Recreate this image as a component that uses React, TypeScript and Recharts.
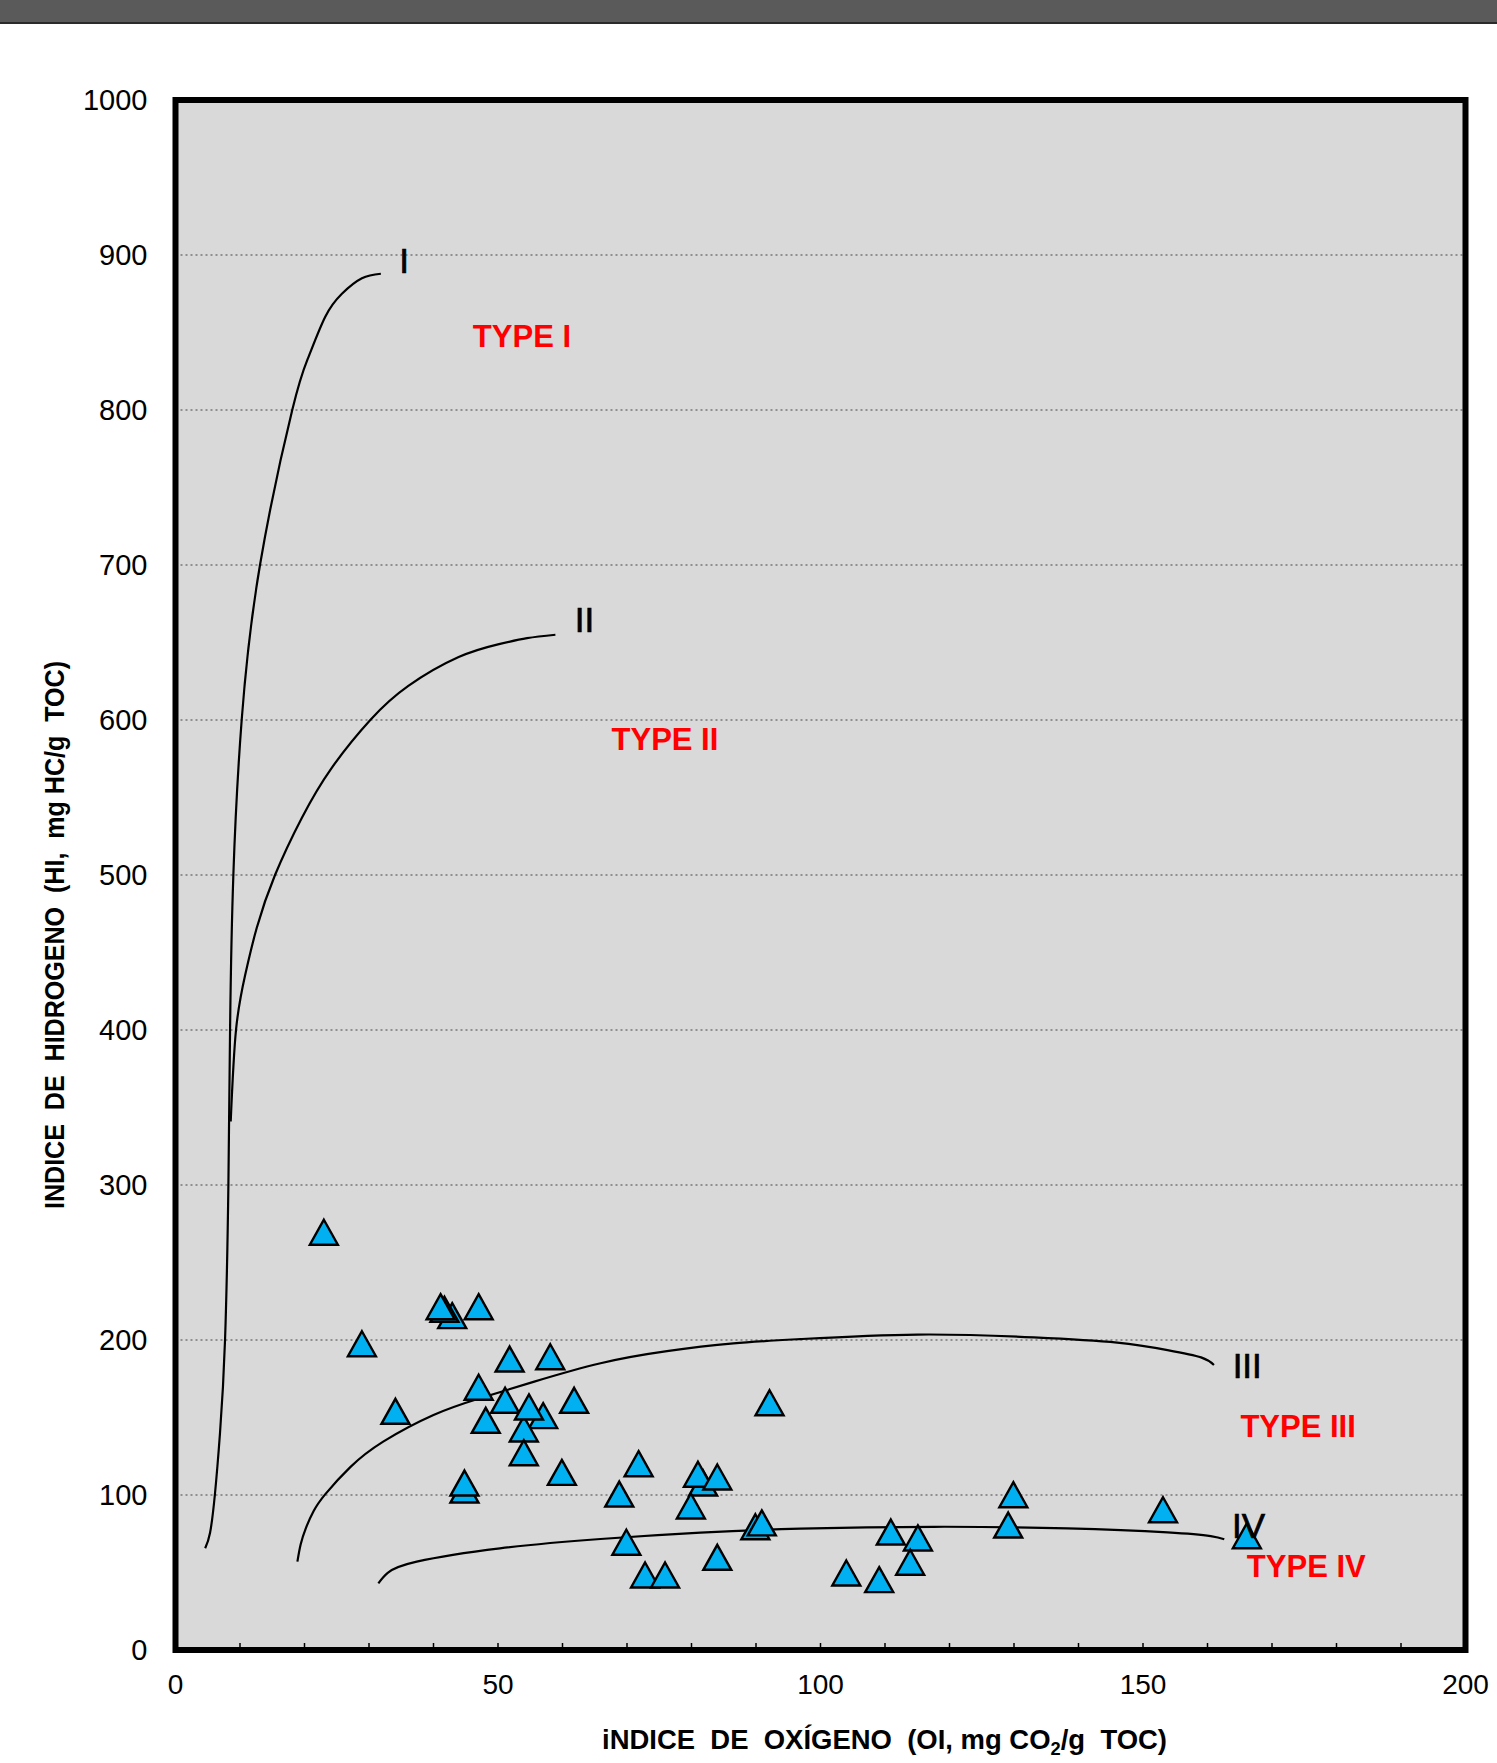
import React from "react";
import {
  ComposedChart,
  Scatter,
  Line,
  XAxis,
  YAxis,
  CartesianGrid,
  ReferenceArea,
  ReferenceDot,
} from "recharts";

// muestras: indice de oxigeno (OI) / indice de hidrogeno (HI)
const sampleOI = [
  23.0, 28.9, 42.9, 41.7, 41.1, 47.0, 51.8, 58.1, 47.0, 51.1, 57.0, 54.0,
  54.0, 54.8, 61.8, 34.1, 48.1, 59.9, 44.8, 44.8, 71.8, 68.8, 81.8, 81.0,
  84.0, 79.9, 69.9, 84.0, 92.1, 89.9, 90.9, 72.8, 75.9, 104.0, 109.1, 110.9,
  115.1, 113.9, 129.9, 129.1, 153.1, 166.1,
];
const sampleHI = [
  269.5, 197.6, 215.7, 219.8, 221.5, 221.5, 187.7, 189.2, 169.5, 161.1, 151.2, 142.6,
  127.3, 156.8, 161.1, 154.0, 148.2, 114.6, 103.2, 107.7, 120.2, 100.6, 107.7, 113.4,
  111.6, 92.9, 69.5, 59.8, 159.5, 79.5, 82.0, 48.4, 48.4, 49.7, 45.4, 76.1,
  72.3, 56.6, 100.2, 80.6, 90.5, 73.7,
];

// curvas de evolucion
const typeIOI = [4.6, 5.35, 6.1, 6.9, 7.68, 8.2, 8.46, 8.97, 10.26, 13.1, 18.1, 20.6, 23.2, 25.8, 28.9, 31.84];
const typeIHI = [65.6, 75.5, 100, 140, 200, 300, 400, 500, 600, 700, 800, 834, 860, 875, 885, 887.9];

const typeIIOI = [8.56, 9.38, 10.8, 12.6, 15.43, 19.6, 24.2, 30.2, 36.1, 43.9, 50, 54.5, 58.9];
const typeIIHI = [341, 400, 435.5, 466, 500, 537, 569, 600, 622, 640.6, 648.8, 652.8, 655];

const typeIIIOI = [18.9, 19.4, 20.2, 21.4, 23.2, 27.1, 32.2, 40, 47.2, 55.5, 65.9, 76.2, 86.5, 96.9, 115, 133.1, 146, 153.8, 159, 161];
const typeIIIHI = [57, 68, 78.5, 89.5, 100.4, 118, 134.4, 151.6, 162.4, 173, 185, 192.8, 197.8, 200.6, 203.5, 201.7, 198.3, 193.5, 188.8, 183.9];

const typeIVOI = [31.45, 32.9, 37.4, 50.3, 65.9, 81.4, 96.9, 117.6, 138.3, 153.8, 160.5, 162.6];
const typeIVHI = [43, 49.8, 57, 65.6, 71.6, 75.7, 78.3, 79.5, 78.5, 75.9, 73.5, 71.4];

const curveNames = ["I", "II", "III", "IV"];
const curveNameOI = [34.7, 61.9, 163.9, 163.8];
const curveNameHI = [896.3, 664.8, 183.2, 80.2];

const typeNames = ["TYPE I", "TYPE II", "TYPE III", "TYPE IV"];
const typeNameOI = [46.1, 67.6, 165.1, 166.1];
const typeNameHI = [848, 587.8, 144.5, 54.2];

const xTicks = [0, 10, 20, 30, 40, 50, 60, 70, 80, 90, 100, 110, 120, 130, 140, 150, 160, 170, 180, 190, 200];
const xGridTicks = [50, 100, 150];
const yTicks = [0, 100, 200, 300, 400, 500, 600, 700, 800, 900, 1000];

const toPoints = (xs: number[], ys: number[]) => xs.map((x, i) => ({ x, y: ys[i] }));

const samples = toPoints(sampleOI, sampleHI);
const curves = [
  toPoints(typeIOI, typeIHI),
  toPoints(typeIIOI, typeIIHI),
  toPoints(typeIIIOI, typeIIIHI),
  toPoints(typeIVOI, typeIVHI),
];

const FONT = "'Liberation Sans', Arial, sans-serif";
const NARROW = "'Liberation Sans Narrow', 'Arial Narrow', 'Liberation Sans', sans-serif";

function Triangle(props: any) {
  const { cx, cy } = props;
  if (cx == null || cy == null) return null;
  const hw = 14;
  const hh = 12.5;
  return (
    <polygon
      points={`${cx},${cy - hh} ${cx + hw},${cy + hh} ${cx - hw},${cy + hh}`}
      fill="#00b0f0"
      stroke="#000"
      strokeWidth={2.4}
    />
  );
}

export default function App() {
  return (
    <div
      style={{
        position: "absolute",
        left: 0,
        top: 0,
        width: 1497,
        height: 1763,
        background: "#fff",
        fontFamily: FONT,
      }}
    >
      <div
        style={{
          position: "absolute",
          left: 0,
          top: 0,
          width: 1497,
          height: 22,
          background: "#5a5a5a",
          borderBottom: "2px solid #2a2a2a",
        }}
      />
      <div style={{ position: "absolute", left: 0, top: 0 }}>
        <ComposedChart
          width={1497}
          height={1763}
          margin={{ top: 100, right: 31.5, bottom: 53, left: 15.5 }}
        >
          <CartesianGrid
            vertical={false}
            fill="#d9d9d9"
            fillOpacity={1}
            stroke="#8f8f8f"
            strokeDasharray="2 3"
            strokeWidth={2}
          />
          <CartesianGrid
            xAxisId="grid"
            horizontal={false}
            stroke="#bdbdbd"
            strokeDasharray="2 3"
            strokeWidth={2}
          />
          <XAxis
            type="number"
            dataKey="x"
            domain={[0, 200]}
            ticks={xTicks}
            interval={0}
            allowDataOverflow
            tickFormatter={(v: number) => (v % 50 === 0 ? String(v) : "")}
            axisLine={false}
            tickLine={{ stroke: "#000", strokeWidth: 1.5 }}
            tickSize={-7}
            tickMargin={31}
            height={60}
            tick={{ fontSize: 28, fill: "#000", fontFamily: FONT }}
          />
          <XAxis
            xAxisId="grid"
            type="number"
            dataKey="x"
            domain={[0, 200]}
            ticks={xGridTicks}
            hide
          />
          <YAxis
            type="number"
            dataKey="y"
            domain={[0, 1000]}
            ticks={yTicks}
            interval={0}
            allowDataOverflow
            axisLine={false}
            tickLine={false}
            tickSize={0}
            tickMargin={28}
            width={160}
            tick={{ fontSize: 29, fill: "#000", fontFamily: FONT }}
          />
          {curves.map((pts, i) => (
            <Line
              key={"c" + i}
              data={pts}
              dataKey="y"
              type="natural"
              stroke="#000"
              strokeWidth={2.2}
              dot={false}
              activeDot={false}
              isAnimationActive={false}
            />
          ))}
          {curveNames.map((name, i) => (
            <ReferenceDot
              key={"n" + i}
              x={curveNameOI[i]}
              y={curveNameHI[i]}
              r={0}
              fill="none"
              stroke="none"
              label={{
                value: name,
                position: "right",
                offset: 0,
                fill: "#000",
                stroke: "#000",
                strokeWidth: 0.7,
                fontSize: 35,
                fontFamily: NARROW,
              }}
            />
          ))}
          {typeNames.map((name, i) => (
            <ReferenceDot
              key={"t" + i}
              x={typeNameOI[i]}
              y={typeNameHI[i]}
              r={0}
              fill="none"
              stroke="none"
              label={{
                value: name,
                position: "right",
                offset: 0,
                fill: "#ff0000",
                fontSize: 31,
                fontWeight: "bold",
                fontFamily: FONT,
              }}
            />
          ))}
          <Scatter
            data={samples}
            dataKey="y"
            shape={(p: any) => <Triangle {...p} />}
            isAnimationActive={false}
          />
          <ReferenceArea
            x1={0}
            x2={200}
            y1={0}
            y2={1000}
            fill="none"
            fillOpacity={0}
            stroke="#000"
            strokeWidth={6}
          />
        </ComposedChart>
      </div>
      <svg
        width={1497}
        height={1763}
        style={{ position: "absolute", left: 0, top: 0, pointerEvents: "none" }}
      >
        <text
          x={602}
          y={1749}
          textLength={565}
          lengthAdjust="spacingAndGlyphs"
          fontFamily={NARROW}
          fontWeight="bold"
          fontSize={27}
          fill="#000"
          style={{ whiteSpace: "pre" }}
        >
          {"iNDICE  DE  OXÍGENO  (OI, mg CO"}
          <tspan fontSize={18} dy={6}>2</tspan>
          <tspan dy={-6}>{"/g  TOC)"}</tspan>
        </text>
        <text
          transform="translate(64, 935) rotate(-90)"
          x={0}
          y={0}
          textAnchor="middle"
          textLength={548}
          lengthAdjust="spacingAndGlyphs"
          fontFamily={NARROW}
          fontWeight="bold"
          fontSize={27}
          fill="#000"
          style={{ whiteSpace: "pre" }}
        >
          {"INDICE  DE  HIDROGENO  (HI,  mg HC/g  TOC)"}
        </text>
      </svg>
    </div>
  );
}
